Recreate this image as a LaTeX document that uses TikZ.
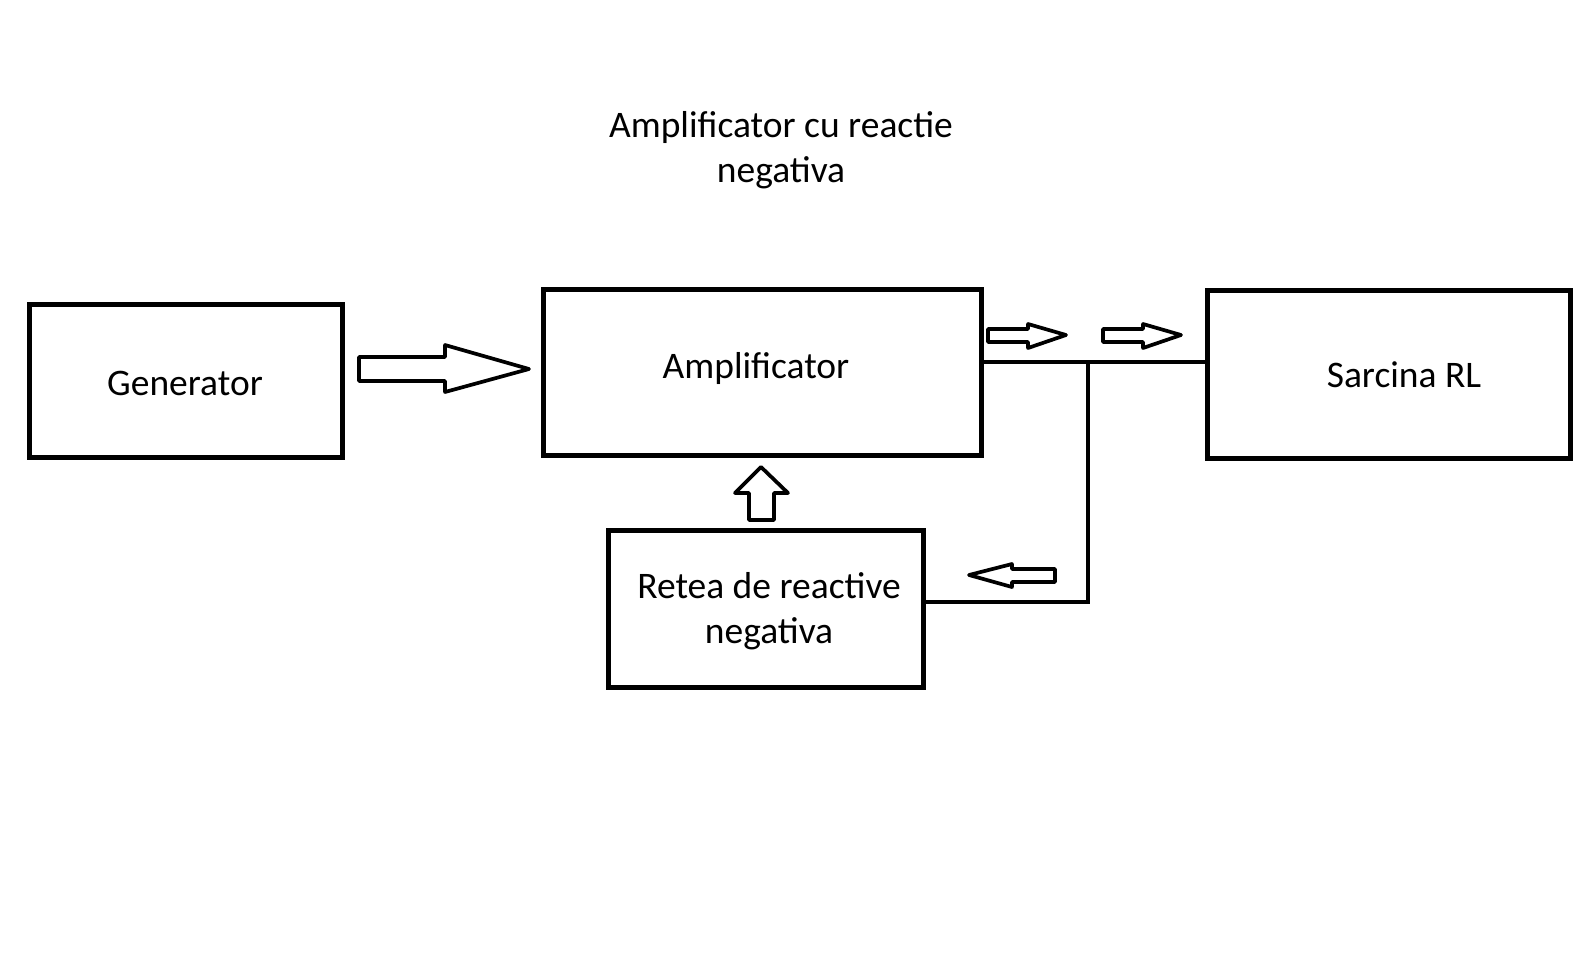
\documentclass[tikz,border=0pt]{standalone}
\usepackage{fontspec}
\setmainfont{Carlito}
\begin{document}
\begin{tikzpicture}[x=1pt,y=-1pt,
  blk/.style={draw,line width=5pt,inner sep=0pt,rectangle},
  txt/.style={font=\fontsize{37.5}{45}\selectfont,align=center,inner sep=0pt},
  wire/.style={line width=4.2pt},
  barrow/.style={draw,fill=white,line width=3.7pt,line join=round}]
\useasboundingbox (0,0) rectangle (1581,970);
\node[blk,minimum width=313pt,minimum height=153pt] (gen) at (186,381) {};
\node[blk,minimum width=438pt,minimum height=166pt] (amp) at (762,372) {};
\node[blk,minimum width=363pt,minimum height=168pt] (sar) at (1388.5,374) {};
\node[blk,minimum width=315pt,minimum height=157pt] (ret) at (765.5,608.5) {};
\node[txt] (title) at (781,150) {Amplificator cu reactie\\negativa};
\node[txt] (gent) at (185,383) {Generator};
\node[txt] (ampt) at (756,368) {Amplificator};
\node[txt] (sart) at (1404,375) {Sarcina RL};
\node[txt] (rett) at (769,611) {Retea de reactive\\negativa};
\coordinate (j) at (1088,362);
\coordinate (k) at (1088,602);
\draw[wire] (amp.east |- j) -- (sar.west |- j);
\draw[wire] (j) -- (k) -- (ret.east |- k);
% block arrows
\draw[barrow] (359,357) -- (445,357) -- (445,345) -- (529,369) -- (445,392) -- (445,381) -- (359,381) -- cycle;
\draw[barrow] (988,329) -- (1028,329) -- (1028,324) -- (1066,335) -- (1028,348) -- (1028,342) -- (988,342) -- cycle;
\draw[barrow] (1103,329) -- (1143,329) -- (1143,324) -- (1181,335) -- (1143,348) -- (1143,342) -- (1103,342) -- cycle;
\draw[barrow] (749,520) -- (749,493) -- (735,493) -- (761,467) -- (788,493) -- (774,493) -- (774,520) -- cycle;
\draw[barrow] (1055,569) -- (1012,569) -- (1012,564) -- (969,575) -- (1012,587) -- (1012,582) -- (1055,582) -- cycle;
\end{tikzpicture}
\end{document}
